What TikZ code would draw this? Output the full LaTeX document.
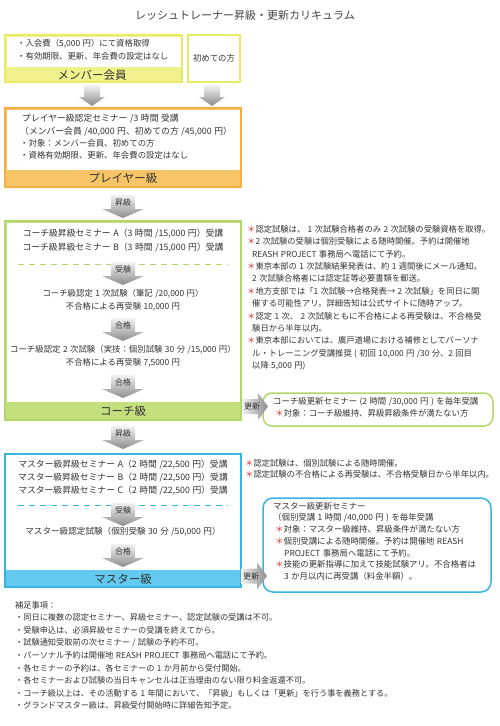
\documentclass[tikz,border=0pt]{standalone}
\usepackage{fontspec}
\setmainfont{Noto Sans CJK JP}[WordSpace=1.3]
\usetikzlibrary{positioning}
\definecolor{RSHyellow}{HTML}{EBEB62}
\definecolor{RSHyellowband}{HTML}{F0F08C}
\definecolor{RSHorange}{HTML}{F5AE42}
\definecolor{RSHorangeband}{HTML}{F8C468}
\definecolor{RSHgreen}{HTML}{B3D66A}
\definecolor{RSHgreenband}{HTML}{C4DF7E}
\definecolor{RSHblue}{HTML}{38B3E4}
\definecolor{RSHblueband}{HTML}{63C9EE}
\definecolor{RSHtext}{HTML}{333333}
\definecolor{RSHtitle}{HTML}{444444}
\definecolor{RSHred}{HTML}{D9302E}
\newcommand{\redstar}{\textcolor{RSHred}{＊}}
\newcommand{\bigline}{\fontsize{8.8}{12.4}\selectfont}
% gray block arrow pointing down: name, centre x, top y, label
\newcommand{\grayarrow}[4]{%
  \path[arrshade] ({#2-12},#3) -- ({#2+12},#3) -- ({#2+12},{#3+14}) -- ({#2+21},{#3+14})
    -- (#2,{#3+23}) -- ({#2-21},{#3+14}) -- ({#2-12},{#3+14}) -- cycle;
  \node[arrlabel] (#1) at (#2,{#3+7.5}) {#4};}
% gray block arrow pointing right: name, left x, centre y, label
\newcommand{\renewarrow}[4]{%
  \path[arrshadeh] (#2,{#3-7.5}) -- ({#2+16},{#3-7.5}) -- ({#2+16},{#3-13.5}) -- ({#2+26},#3)
    -- ({#2+16},{#3+13.5}) -- ({#2+16},{#3+7.5}) -- (#2,{#3+7.5}) -- cycle;
  \node[arrlabel] (#1) at ({#2+10},#3) {#4};}

\begin{document}
\begin{tikzpicture}[x=1pt, y=-1pt,
    txt/.style={font=\fontsize{8.4}{12.4}\selectfont, text=RSHtext, inner sep=0pt},
    lefttxt/.style={txt, anchor=north west, align=left},
    midtxt/.style={txt, align=center},
    bandlabel/.style={font=\fontsize{11.5}{13}\selectfont, text=RSHtext, inner sep=0pt},
    arrlabel/.style={font=\fontsize{8}{9}\selectfont, text=RSHtext, inner sep=0pt},
    arrshade/.style={top color=black!5, bottom color=black!45},
    arrshadeh/.style={left color=black!5, right color=black!45},
    sep/.style={dash pattern=on 6pt off 5pt, line width=1pt}]
  \useasboundingbox[fill=white] (0,0) rectangle (500,726);

  % title
  \node[font=\fontsize{11}{13}\selectfont, text=RSHtitle] (title) at (245,15) {レッシュトレーナー昇級・更新カリキュラム};

  % member
  \draw[RSHyellow, line width=2.5pt, fill=RSHyellowband] (5,35) rectangle (182,82);
  \fill[white] (6.5,36.5) rectangle (180.5,67);
  \node[lefttxt] (member) at (17,39) {・入会費（5,000 円）にて資格取得\\[0.6pt]・有効期限、更新、年会費の設定はなし};
  \node[bandlabel] (memberband) at (92,75) {メンバー会員};
  \draw[RSHyellow, line width=2.5pt, fill=white] (188,35) rectangle (240,82);
  \node[txt] (first) at (214,58) {初めての方};
  \path[arrshade] (84,85) -- (100,85) -- (100,97) -- (105,97) -- (92,106) -- (79,97) -- (84,97) -- cycle;
  \path[arrshade] (204,85) -- (220,85) -- (220,97) -- (225,97) -- (212,106) -- (199,97) -- (204,97) -- cycle;

  % player
  \draw[RSHorange, line width=2.5pt, fill=RSHorangeband] (5,108) rectangle (241,187);
  \fill[white] (6.5,109.5) rectangle (239.5,170);
  \node[lefttxt] (player) at (20,114) {{\bigline\hspace*{2pt}プレイヤー級認定セミナー /3 時間 受講}\\{\bigline（メンバー会員 /40,000 円、初めての方 /45,000 円）}\\・対象：メンバー会員、初めての方\\・資格有効期限、更新、年会費の設定はなし};
  \node[bandlabel] (playerband) at (123,178.5) {プレイヤー級};
  \grayarrow{up1}{123}{195}{昇級}

  % coach
  \draw[RSHgreen, line width=2.5pt, fill=RSHgreenband] (5,221) rectangle (241,420);
  \fill[white] (6.5,222.5) rectangle (239.5,402);
  \node[midtxt, font=\fontsize{8.8}{14}\selectfont] (coachsem) at (123,241) {コーチ級昇級セミナー A（3 時間 /15,000 円）受講\\コーチ級昇級セミナー B（3 時間 /15,000 円）受講};
  \draw[sep, RSHgreen] (18,264) -- (228,264);
  \grayarrow{coachexam}{123}{262}{受験}
  \node[midtxt] (coachone) at (123,300) {コーチ級認定 1 次試験（筆記 /20,000 円）\\不合格による再受験 10,000 円};
  \grayarrow{coachpass1}{123}{318}{合格}
  \node[midtxt, font=\fontsize{8.4}{13}\selectfont] (coachtwo) at (123,356.5) {コーチ級認定 2 次試験（実技：個別試験 30 分 /15,000 円）\\不合格による再受験 7,5000 円};
  \grayarrow{coachpass2}{123}{375}{合格}
  \node[bandlabel] (coachband) at (123,411) {コーチ級};
  \node[lefttxt, font=\fontsize{8.3}{12.4}\selectfont] (coachnotes) at (247,225) {\redstar 認定試験は、 1 次試験合格者のみ 2 次試験の受験資格を取得。\\\redstar 2 次試験の受験は個別受験による随時開催。予約は開催地\\\hspace*{5pt}REASH PROJECT 事務局へ電話にて予約。\\\redstar 東京本部の 1 次試験結果発表は、約 1 週間後にメール通知。\\\hspace*{5pt}2 次試験合格者には認定証等必要書類を郵送。\\\redstar 地方支部では「1 次試験→合格発表→ 2 次試験」を同日に開\\\hspace*{5pt}催する可能性アリ。詳細告知は公式サイトに随時アップ。\\\redstar 認定 1 次、 2 次試験ともに不合格による再受験は、不合格受\\\hspace*{5pt}験日から半年以内。\\\redstar 東京本部においては、廣戸道場における補修としてパーソナ\\\hspace*{5pt}ル・トレーニング受講推奨 ( 初回 10,000 円 /30 分、2 回目\\\hspace*{5pt}以降 5,000 円)};
  \draw[RSHgreen, line width=1.5pt, rounded corners=9pt] (263,393) rectangle (493,426);
  \node[lefttxt] (coachrenew) at (273,397) {コーチ級更新セミナー (2 時間 /30,000 円 ) を毎年受講\\\hspace*{2pt}\redstar 対象：コーチ級維持、昇級昇級条件が満たない方};
  \renewarrow{coachnew}{242}{406.5}{更新}
  \grayarrow{up2}{123}{426}{昇級}

  % master
  \draw[RSHblue, line width=2pt, fill=RSHblueband] (5,454) rectangle (241,587);
  \fill[white] (6,455) rectangle (240,570);
  \node[midtxt, font=\fontsize{8.8}{13}\selectfont] (mastersem) at (123,478) {マスター級昇級セミナー A（2 時間 /22,500 円）受講\\マスター級昇級セミナー B（2 時間 /22,500 円）受講\\マスター級昇級セミナー C（2 時間 /22,500 円）受講};
  \draw[sep, RSHblue] (18,505) -- (228,505);
  \grayarrow{masterexam}{123}{503}{受験}
  \node[midtxt, font=\fontsize{8.6}{12.4}\selectfont] (masterone) at (123,532) {マスター級認定試験（個別受験 30 分 /50,000 円）};
  \grayarrow{masterpass}{123}{544}{合格}
  \node[bandlabel] (masterband) at (123,579) {マスター級};
  \node[lefttxt, font=\fontsize{8.3}{11.5}\selectfont] (masternotes) at (245,459) {\redstar 認定試験は、個別試験による随時開催。\\\redstar 認定試験の不合格による再受験は、不合格受験日から半年以内。};
  \draw[RSHblue, line width=1.5pt, rounded corners=10pt] (263,498) rectangle (491,592);
  \node[lefttxt, font=\fontsize{8.4}{11.7}\selectfont] (masterrenew) at (273,502) {マスター級更新セミナー\\（個別受講 1 時間 /40,000 円 ) を毎年受講\\\hspace*{2pt}\redstar 対象：マスター級維持、昇級条件が満たない方\\\hspace*{2pt}\redstar 個別受講による随時開催。予約は開催地 REASH\\\hspace*{11pt}PROJECT 事務局へ電話にて予約。\\\hspace*{2pt}\redstar 技能の更新指導に加えて技能試験アリ。不合格者は\\\hspace*{11pt}3 か月以内に再受講（料金半額）。};
  \renewarrow{masternew}{241}{576}{更新}

  % supplementary notes
  \node[lefttxt, font=\fontsize{8.2}{12.6}\selectfont] (extra) at (15,601) {補足事項：\\・同日に複数の認定セミナー、昇級セミナー、認定試験の受講は不可。\\・受験申込は、必須昇級セミナーの受講を終えてから。\\・試験通知受取前の次セミナー / 試験の予約不可。\\・パーソナル予約は開催地 REASH PROJECT 事務局へ電話にて予約。\\・各セミナーの予約は、各セミナーの 1 か月前から受付開始。\\・各セミナーおよび試験の当日キャンセルは正当理由のない限り料金返還不可。\\・コーチ級以上は、その活動する 1 年間において、「昇級」もしくは「更新」を行う事を義務とする。\\・グランドマスター級は、昇級受付開始時に詳細告知予定。};
\end{tikzpicture}
\end{document}
